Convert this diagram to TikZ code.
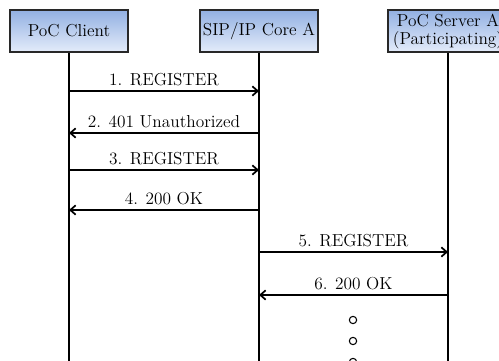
\documentclass[tikz,border=0pt]{standalone}
\usetikzlibrary{arrows.meta}

\definecolor{boxtop}{RGB}{146,176,226}
\definecolor{boxbottom}{RGB}{228,236,250}
\definecolor{boxline}{RGB}{40,40,40}

\tikzset{every picture/.style={line width=1.1pt}}
\tikzset{
  entity/.style={draw=boxline, line width=1.2pt, top color=boxtop, bottom color=boxbottom,
    minimum width=88.5pt, minimum height=31.5pt, inner sep=1pt, align=center,
    font=\fontsize{13}{13.5}\selectfont},
  lifeline/.style={draw=black, line width=1.2pt},
  msg/.style={draw=black, line width=1.3pt, -{Straight Barb[length=4pt,width=7pt,line width=1.3pt]}},
  msglabel/.style={above, inner sep=3pt, font=\fontsize{13}{14}\selectfont},
  waitdot/.style={circle, draw=black, line width=0.8pt, minimum size=5.5pt, inner sep=0pt}
}

\begin{document}
\begin{tikzpicture}[x=0.75pt,y=0.75pt,yscale=-1,xscale=1]
\useasboundingbox (0,0) rectangle (499,360);

% Entities
\node[entity] (client) at (69,31) {PoC Client};
\node[entity] (core) at (259,31) {SIP/IP Core A};
\node[entity, minimum width=90pt, inner sep=0pt] (server) at (448,31) {PoC Server A\\(Participating)};

% Lifelines
\coordinate (bottom) at (0,362);
\draw[lifeline] (client.south) -- (client.south |- bottom);
\draw[lifeline] (core.south) -- (core.south |- bottom);
\draw[lifeline] (server.south) -- (server.south |- bottom);

% Messages
\draw[msg] (client |- 0,91) -- node[msglabel] {1. REGISTER} (core |- 0,91);
\draw[msg] (core |- 0,133) -- node[msglabel] {2. 401 Unauthorized} (client |- 0,133);
\draw[msg] (client |- 0,170) -- node[msglabel] {3. REGISTER} (core |- 0,170);
\draw[msg] (core |- 0,210) -- node[msglabel] {4. 200 OK} (client |- 0,210);
\draw[msg] (core |- 0,252) -- node[msglabel] {5. REGISTER} (server |- 0,252);
\draw[msg] (server |- 0,295) -- node[msglabel] {6. 200 OK} (core |- 0,295);

% Continuation
\node[waitdot] (dot1) at (353,320) {};
\node[waitdot] (dot2) at (353,341) {};
\node[waitdot] (dot3) at (353,362) {};

\end{tikzpicture}
\end{document}
